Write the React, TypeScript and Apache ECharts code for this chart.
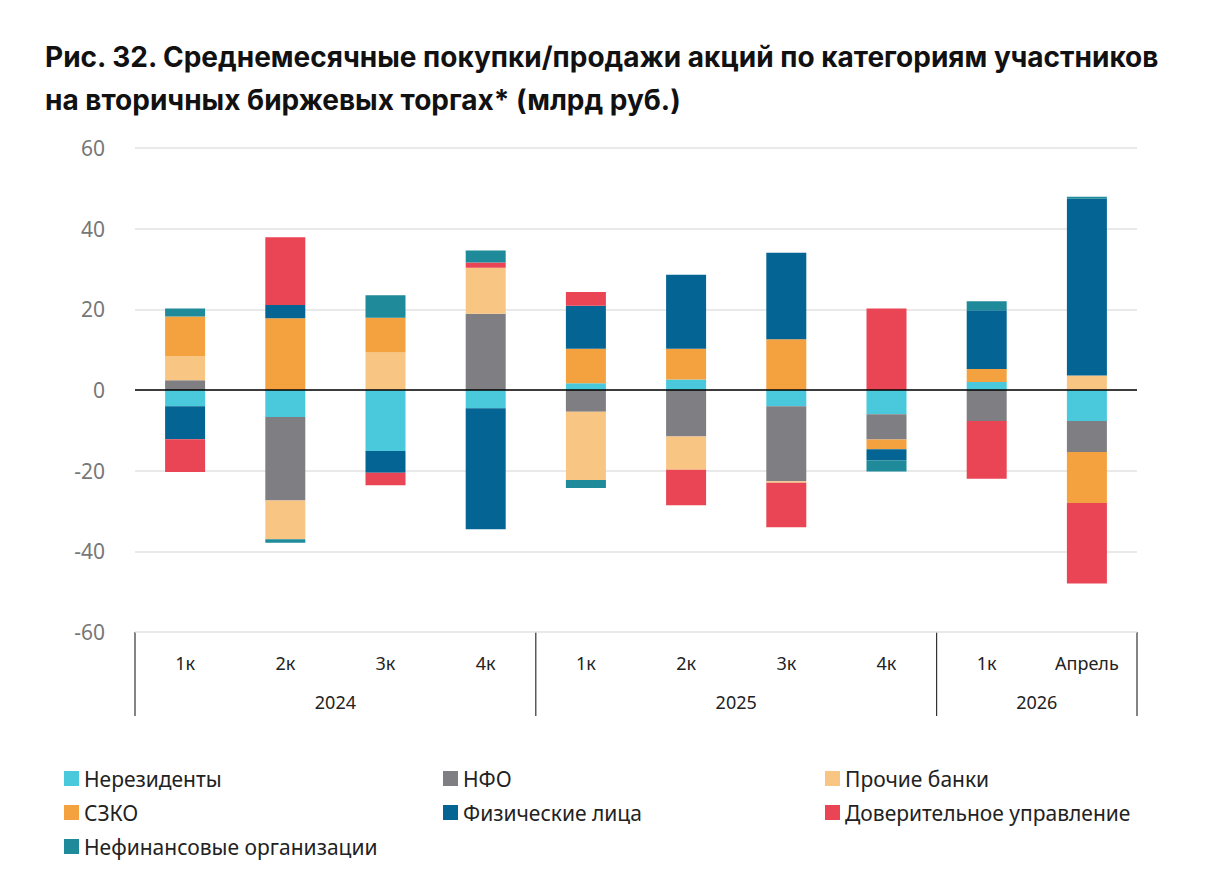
import React, { useEffect, useRef } from "react";
import * as echarts from "echarts";

const categories = ["1к", "2к", "3к", "4к", "1к", "2к", "3к", "4к", "1к", "Апрель"];
const years = ["2024", "2025", "2026"];
const yearSpans = [4, 4, 2];
const seriesNames = ["Нерезиденты", "НФО", "Прочие банки", "СЗКО", "Физические лица", "Доверительное управление", "Нефинансовые организации"];
const colors = ["#4bc9dc", "#7f7f83", "#f9c583", "#f4a23f", "#046594", "#ea4555", "#1f8a9a"];
const nonResidents = [-4.0, -6.7, -15.1, -4.5, 1.7, 2.6, -4.0, -6.0, 2.0, -7.7];
const nfo = [2.4, -20.7, 0, 18.9, -5.4, -11.5, -18.6, -6.3, -7.7, -7.7];
const otherBanks = [6.0, -9.6, 9.3, 11.4, -16.9, -8.3, -0.4, 0, 0, 3.6];
const szko = [9.8, 17.8, 8.6, 0, 8.5, 7.6, 12.6, -2.4, 3.2, -12.6];
const individuals = [-8.2, 3.3, -5.4, -30.0, 10.7, 18.4, 21.4, -2.7, 14.6, 43.8];
const trust = [-8.1, 16.8, -3.1, 1.3, 3.4, -8.8, -11.0, 20.2, -14.3, -20.0];
const nonFin = [2.0, -0.9, 5.6, 3.0, -2.0, 0, 0, -2.8, 2.2, 0.5];
const seriesData = [nonResidents, nfo, otherBanks, szko, individuals, trust, nonFin];
const yTicks = { min: -60, max: 60, interval: 20 };
// legend grid slots: [column, row]
const legendSlots = [[0, 0], [1, 0], [2, 0], [0, 1], [1, 1], [2, 1], [0, 2]];

export default function App() {
  const ref = useRef<HTMLDivElement>(null);
  useEffect(() => {
    document.body.style.margin = "0";
    const chart = echarts.init(ref.current!, undefined, { renderer: "svg" });
    const left = 135, right = 1137, top = 148, bottom = 632;
    const cw = (right - left) / categories.length;
    const graphics: any[] = [];
    let idx = 0;
    const bounds = [left];
    yearSpans.forEach((s, i) => {
      const x0 = left + idx * cw;
      idx += s;
      const x1 = left + idx * cw;
      bounds.push(x1);
      graphics.push({
        type: "text", x: (x0 + x1) / 2, y: 702,
        style: { text: years[i], fill: "#222", font: "18px 'Noto Sans'", align: "center", verticalAlign: "middle" },
      });
    });
    bounds.forEach((x) => graphics.push({ type: "line", shape: { x1: x, y1: bottom, x2: x, y2: 716 }, style: { stroke: "#333", lineWidth: 1.2 } }));
    const colX = [64, 443, 825];
    const rowY = [768, 802, 836];
    chart.setOption({
      animation: false,
      title: {
        text: "Рис. 32. Среднемесячные покупки/продажи акций по категориям участников\nна вторичных биржевых торгах* (млрд руб.)",
        left: 40, top: 30,
        textStyle: { fontSize: 28, fontWeight: "bold", color: "#111", lineHeight: 43, fontFamily: "Inter" },
      },
      grid: { left, right: 1210 - right, top, bottom: 878 - bottom },
      xAxis: {
        type: "category", data: categories,
        axisLine: { show: false }, axisTick: { show: false },
        axisLabel: { fontSize: 18, color: "#222", margin: 22, fontFamily: "'Noto Sans'" },
      },
      yAxis: {
        type: "value", ...yTicks,
        axisLabel: { fontSize: 21, color: "#777", margin: 30, fontFamily: "'Noto Sans'" },
        splitLine: { lineStyle: { color: "#e2e2e2", width: 1.5 } },
      },
      legend: seriesNames.map((n, i) => ({
        data: [n], left: colX[legendSlots[i][0]], top: rowY[legendSlots[i][1]],
        textStyle: { fontSize: 21, color: "#222", fontFamily: "'Noto Sans'" },
        itemWidth: 15, itemHeight: 15, icon: "rect", padding: 0,
      })),
      series: seriesNames.map((name, i) => ({
        name, type: "bar", stack: "all", data: seriesData[i], barWidth: 40,
        itemStyle: { color: colors[i] },
        ...(i === 0 ? { markLine: { silent: true, symbol: "none", label: { show: false }, lineStyle: { color: "#000", width: 1.5, type: "solid" }, data: [{ yAxis: 0 }] } } : {}),
      })),
      graphic: graphics,
    });
    return () => chart.dispose();
  }, []);
  return <div ref={ref} style={{ width: 1210, height: 878 }} />;
}
